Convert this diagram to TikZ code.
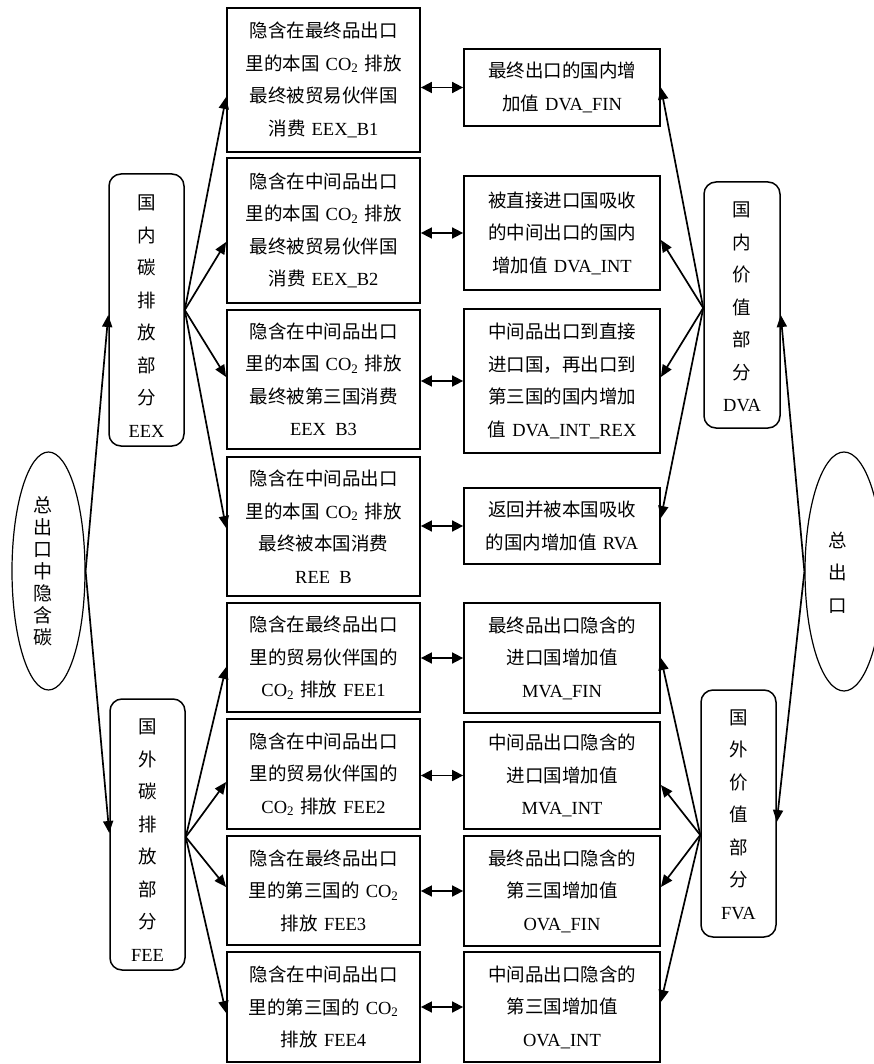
\documentclass[tikz,border=0pt]{standalone}
\usepackage{fontspec}
\setmainfont{Noto Sans CJK SC}
\newfontfamily\tms{Liberation Serif}
\newcommand\E[1]{{\tms #1}}
\newcommand\COt{{\tms CO\textsubscript{2}}}
\usetikzlibrary{arrows.meta,calc,shapes.geometric}
\begin{document}
\begin{tikzpicture}[x=1pt,y=-1pt,
 box/.style={draw, line width=1.8pt, align=center, inner sep=0pt, font=\fontsize{18.5}{32.5}\selectfont},
 lbox/.style={box, minimum width=193pt, text width=190pt},
 rbox/.style={box, minimum width=196pt, text width=193pt},
 rnd/.style={draw, line width=1.5pt, rounded corners=12pt, minimum width=75pt, inner sep=0pt},
 vtext/.style={align=center, inner sep=0pt, font=\fontsize{18.5}{32.5}\selectfont},
 arr/.style={line width=1.7pt, -{Triangle[length=12pt,width=10pt]}},
 dbl/.style={line width=1.7pt, {Triangle[length=11pt,width=11pt]}-{Triangle[length=11pt,width=11pt]}},
 ell/.style={draw, ellipse, line width=1.2pt, inner sep=0pt},
]
\useasboundingbox (0,0) rectangle (873,1064);

% left boxes
\node[lbox, minimum height=144pt] (b1) at (323.5,80) {隐含在最终品出口\\里的本国 \COt\ 排放\\最终被贸易伙伴国\\消费 \E{EEX\_B1}};
\node[lbox, minimum height=145pt] (b2) at (323.5,230.5) {隐含在中间品出口\\里的本国 \COt\ 排放\\最终被贸易伙伴国\\消费 \E{EEX\_B2}};
\node[lbox, minimum height=139pt] (b3) at (323.5,379.5) {隐含在中间品出口\\里的本国 \COt\ 排放\\最终被第三国消费\\\E{EEX\hphantom{\_}B3}};
\node[lbox, minimum height=139pt] (b4) at (323.5,526.5) {隐含在中间品出口\\里的本国 \COt\ 排放\\最终被本国消费\\\E{REE\hphantom{\_}B}};
\node[lbox, minimum height=109pt] (b5) at (323.5,657.5) {隐含在最终品出口\\里的贸易伙伴国的\\\COt\ 排放 \E{FEE1}};
\node[lbox, minimum height=110pt] (b6) at (323.5,774) {隐含在中间品出口\\里的贸易伙伴国的\\\COt\ 排放 \E{FEE2}};
\node[lbox, minimum height=109pt] (b7) at (323.5,890.5) {隐含在最终品出口\\里的第三国的 \COt\\排放 \E{FEE3}};
\node[lbox, minimum height=110pt] (b8) at (323.5,1007) {隐含在中间品出口\\里的第三国的 \COt\\排放 \E{FEE4}};

% right boxes
\node[rbox, minimum height=77pt] (r1) at (562,87.5) {最终出口的国内增\\加值 \E{DVA\_FIN}};
\node[rbox, minimum height=114pt] (r2) at (562,233) {被直接进口国吸收\\的中间出口的国内\\增加值 \E{DVA\_INT}};
\node[rbox, minimum height=144pt] (r3) at (562,381) {中间品出口到直接\\进口国，再出口到\\第三国的国内增加\\值 \E{DVA\_INT\_REX}};
\node[rbox, minimum height=76pt] (r4) at (562,526) {返回并被本国吸收\\的国内增加值 \E{RVA}};
\node[rbox, minimum height=110pt] (r5) at (562,658) {最终品出口隐含的\\进口国增加值\\\E{MVA\_FIN}};
\node[rbox, minimum height=107pt] (r6) at (562,775.5) {中间品出口隐含的\\进口国增加值\\\E{MVA\_INT}};
\node[rbox, minimum height=110pt] (r7) at (562,891) {最终品出口隐含的\\第三国增加值\\\E{OVA\_FIN}};
\node[rbox, minimum height=110pt] (r8) at (562,1007) {中间品出口隐含的\\第三国增加值\\\E{OVA\_INT}};

% rounded boxes
\node[rnd, minimum height=272pt] (eex) at (146.5,310) {};
\node[vtext] (eext) at (146.5,316) {国\\内\\碳\\排\\放\\部\\分\\\E{EEX}};
\node[rnd, minimum height=271pt] (fee) at (147.5,834.5) {};
\node[vtext] (feet) at (147.5,840) {国\\外\\碳\\排\\放\\部\\分\\\E{FEE}};
\node[rnd, minimum width=76pt, minimum height=246pt] (dva) at (742,305) {};
\node[vtext] (dvat) at (742,307) {国\\内\\价\\值\\部\\分\\\E{DVA}};
\node[rnd, minimum height=247pt] (fva) at (738.5,813.5) {};
\node[vtext] (fvat) at (738.5,814.5) {国\\外\\价\\值\\部\\分\\\E{FVA}};

% ellipses
\node[ell, minimum width=73pt, minimum height=238pt] (tot) at (48.5,571) {};
\node[align=center, inner sep=0pt, font=\fontsize{19}{22}\selectfont] (tott) at (43,571) {总\\出\\口\\中\\隐\\含\\碳};
\node[ell, minimum width=78pt, minimum height=239pt] (exp) at (844,571.5) {};
\node[vtext] (expt) at (838,572.5) {总\\出\\口};

% arrows from total embodied carbon
\draw[arr] (tot.east) -- ([yshift=-5pt]eex.west);
\draw[arr] (tot.east) -- ([yshift=1.5pt]fee.west);

% EEX fan
\draw[arr] (eex.east) -- ([yshift=-17pt]b1.west);
\draw[arr] (eex.east) -- ([yshift=-11.5pt]b2.west);
\draw[arr] (eex.east) -- ([yshift=2.5pt]b3.west);
\draw[arr] (eex.east) -- ([yshift=-1.5pt]b4.west);

% FEE fan
\draw[arr] ([yshift=-2.5pt]fee.east) -- ([yshift=-9.5pt]b5.west);
\draw[arr] ([yshift=-2.5pt]fee.east) -- ([yshift=-8pt]b6.west);
\draw[arr] ([yshift=-2.5pt]fee.east) -- ([yshift=3.5pt]b7.west);
\draw[arr] ([yshift=-2.5pt]fee.east) -- ([yshift=-6pt]b8.west);

% DVA fan
\draw[arr] ([yshift=-3pt]dva.west) -- (r1.east);
\draw[arr] ([yshift=-3pt]dva.west) -- ([yshift=-7pt]r2.east);
\draw[arr] ([yshift=-3pt]dva.west) -- ([yshift=4pt]r3.east);
\draw[arr] ([yshift=-3pt]dva.west) -- ([yshift=8pt]r4.east);

% FVA fan
\draw[arr] ([yshift=-21.5pt]fva.west) -- (r5.east);
\draw[arr] ([yshift=-21.5pt]fva.west) -- ([yshift=-9.5pt]r6.east);
\draw[arr] ([yshift=-21.5pt]fva.west) -- ([yshift=4pt]r7.east);
\draw[arr] ([yshift=-21.5pt]fva.west) -- ([yshift=5pt]r8.east);

% total exports
\draw[arr] (exp.west) -- ([yshift=-10pt]dva.east);
\draw[arr] (exp.west) -- ([yshift=-8.5pt]fva.east);

% double arrows
\draw[dbl] (b1.east |- r1.west) -- (r1.west);
\draw[dbl] (b2.east |- r2.west) -- (r2.west);
\draw[dbl] (b3.east |- r3.west) -- (r3.west);
\draw[dbl] (b4.east |- r4.west) -- (r4.west);
\draw[dbl] (b5.east |- r5.west) -- (r5.west);
\draw[dbl] (b6.east |- r6.west) -- (r6.west);
\draw[dbl] (b7.east |- r7.west) -- (r7.west);
\draw[dbl] (b8.east |- r8.west) -- (r8.west);
\end{tikzpicture}
\end{document}
